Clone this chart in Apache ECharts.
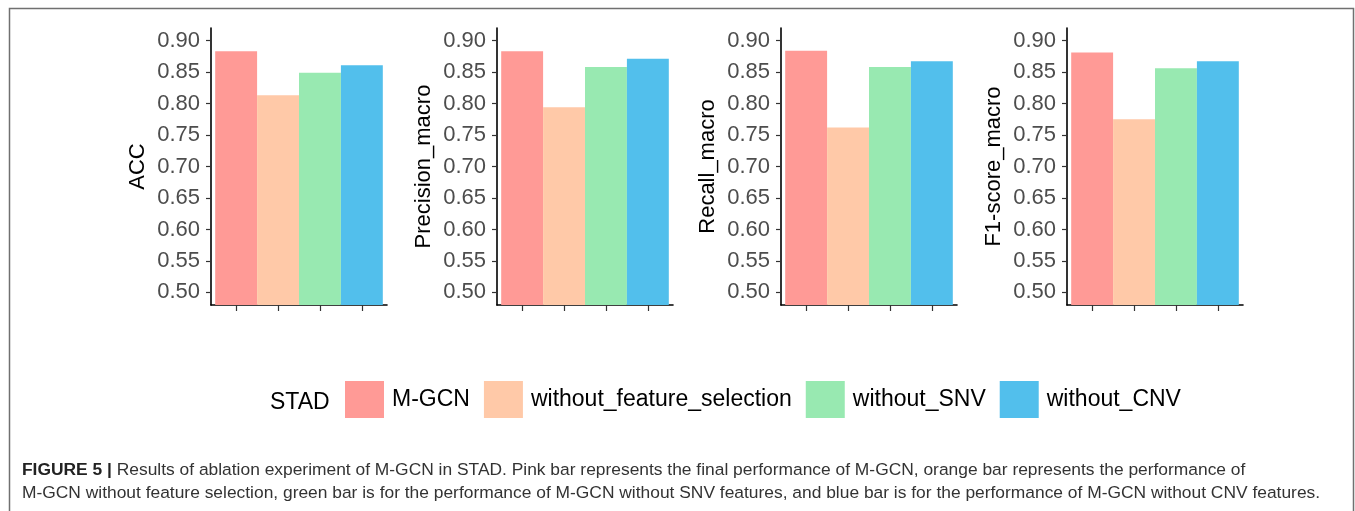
<!DOCTYPE html>
<html>
<head>
<meta charset="utf-8">
<script src="https://cdn.jsdelivr.net/npm/echarts@6/dist/echarts.min.js"></script>
<style>
  html, body { margin: 0; padding: 0; background: #fff; }
  #main { width: 1355px; height: 511px; }
</style>
</head>
<body>
<div id="main"></div>
<script>
// data
var metrics = ['ACC', 'Precision_macro', 'Recall_macro', 'F1-score_macro'];
var methods = ['M-GCN', 'without_feature_selection', 'without_SNV', 'without_CNV'];
var accVals = [0.883, 0.813, 0.849, 0.861];
var precisionVals = [0.883, 0.794, 0.858, 0.871];
var recallVals = [0.884, 0.762, 0.858, 0.867];
var f1Vals = [0.881, 0.775, 0.856, 0.867];
var yTicks = [0.50, 0.55, 0.60, 0.65, 0.70, 0.75, 0.80, 0.85, 0.90];
var xTicks = [1, 2, 3, 4];

var panelVals = [accVals, precisionVals, recallVals, f1Vals];
var colors = ['#FF9A96', '#FFC9A8', '#98E9B1', '#52BFEC'];
var font = 'Liberation Sans, Arial, sans-serif';

// panel placement (axis line x and plot width)
var gridLefts = [211, 497, 781, 1067];
var gridWidth = 176;

var grids = [], xAxes = [], yAxes = [], series = [];
for (var g = 0; g < metrics.length; g++) {
    grids.push({ left: gridLefts[g], width: gridWidth, top: 28, height: 277 });
    xAxes.push({
        type: 'value', gridIndex: g, min: 0.4, max: 4.6,
        axisLine: { lineStyle: { color: '#000', width: 1.6 } },
        axisTick: { show: true, customValues: xTicks, length: 6, lineStyle: { color: '#333', width: 1.2 } },
        axisLabel: { show: false },
        splitLine: { show: false }
    });
    yAxes.push({
        type: 'value', gridIndex: g, min: 0.48, max: 0.92,
        name: metrics[g], nameLocation: 'middle', nameGap: 62,
        nameTextStyle: { fontSize: 22, color: '#000', fontFamily: font },
        axisLine: { show: true, lineStyle: { color: '#000', width: 1.6 } },
        axisTick: { show: true, customValues: yTicks, length: 5, lineStyle: { color: '#333', width: 1.2 } },
        axisLabel: {
            customValues: yTicks, margin: 11, fontSize: 22, color: '#4D4D4D', fontFamily: font,
            formatter: function (v) { return v.toFixed(2); }
        },
        splitLine: { show: false }
    });
    for (var m = 0; m < methods.length; m++) {
        series.push({
            name: methods[m], type: 'bar',
            xAxisIndex: g, yAxisIndex: g,
            barWidth: '100%', barGap: '-100%',
            itemStyle: { color: colors[m] },
            data: [[xTicks[m], panelVals[g][m]]]
        });
    }
}

var option = {
    backgroundColor: '#fff',
    animation: false,
    title: [
        { text: 'STAD', left: 265, top: 386,
          textStyle: { fontSize: 23, fontWeight: 'normal', color: '#000', fontFamily: font } },
        { text: '{b|FIGURE 5 |} Results of ablation experiment of M-GCN in STAD. Pink bar represents the final performance of M-GCN, orange bar represents the performance of\n' +
                'M-GCN without feature selection, green bar is for the performance of M-GCN without SNV features, and blue bar is for the performance of M-GCN without CNV features.',
          left: 17, top: 454,
          textStyle: {
              fontSize: 17.4, fontWeight: 'normal', color: '#333', fontFamily: font, lineHeight: 23,
              rich: { b: { fontSize: 17.4, fontWeight: 'bold', color: '#222', fontFamily: font, lineHeight: 23 } }
          } }
    ],
    legend: {
        data: methods, left: 340, top: 376,
        icon: 'rect', itemWidth: 39, itemHeight: 37, itemGap: 14,
        textStyle: { fontSize: 23, color: '#000', fontFamily: font, padding: [0, 0, 0, 3] }
    },
    graphic: [{
        type: 'rect', silent: true,
        shape: { x: 9.5, y: 8.5, width: 1344, height: 600 },
        style: { fill: 'none', stroke: '#707070', lineWidth: 1.5 }
    }],
    grid: grids,
    xAxis: xAxes,
    yAxis: yAxes,
    series: series
};

var chart = echarts.init(document.getElementById('main'));
chart.setOption(option);
</script>
</body>
</html>
